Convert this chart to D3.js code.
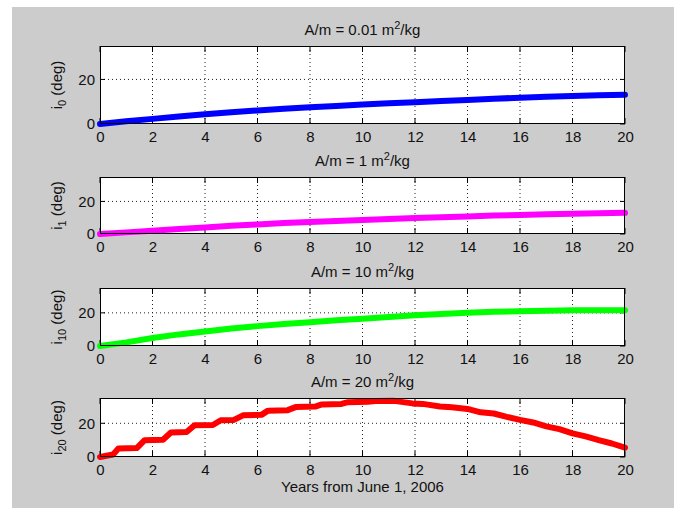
<!DOCTYPE html>
<html>
<head>
<meta charset="utf-8">
<script src="https://cdn.jsdelivr.net/npm/d3@7"></script>
<style>
  html, body { margin: 0; padding: 0; background: #ffffff; }
  svg { display: block; }
  text { font-family: "Liberation Sans", Arial, Helvetica, sans-serif; fill: #111; }
</style>
</head>
<body>
<svg id="chart" width="678" height="508"></svg>
<script>
// ---------------- data ----------------
const xTicks = [0, 2, 4, 6, 8, 10, 12, 14, 16, 18, 20];
const yTicks = [0, 20];
const areaToMass = ["0.01", "1", "10", "20"];
const subscripts = ["0", "1", "10", "20"];
const seriesColors = ["#0000ff", "#ff00ff", "#00ff00", "#ff0000"];
const xLabel = "Years from June 1, 2006";

const yearsA = [0, 1, 2, 3, 4, 5, 6, 7, 8, 9, 10, 11, 12, 13, 14, 15, 16, 17, 18, 19, 20];
const inc0 = [0, 1.2, 2.3, 3.4, 4.4, 5.3, 6.1, 6.8, 7.5, 8.1, 8.7, 9.3, 9.8, 10.3, 10.8, 11.3, 11.8, 12.2, 12.6, 12.9, 13.1];
const inc1 = [0, 1.0, 2.0, 3.0, 4.0, 5.0, 5.9, 6.7, 7.4, 8.0, 8.6, 9.2, 9.8, 10.3, 10.8, 11.3, 11.7, 12.1, 12.4, 12.7, 13.0];
const inc10 = [0, 2.2, 4.8, 7.0, 8.8, 10.5, 12.0, 13.3, 14.4, 15.5, 16.5, 17.5, 18.5, 19.3, 20.0, 20.6, 21.0, 21.3, 21.5, 21.6, 21.6];
const yearsB = [0, 0.5, 0.7, 1.4, 1.7, 2.4, 2.7, 3.3, 3.6, 4.3, 4.6, 5.1, 5.45, 6.15, 6.4, 7.15, 7.45, 8.2, 8.45, 9.2, 9.45,
                10.2, 10.5, 11.2, 11.9, 12.3, 12.95, 13.4, 14, 14.5, 15, 15.5, 16, 16.5, 17, 17.5, 18, 18.5, 19, 19.5, 20];
const inc20 = [0, 1.5, 5, 5.3, 10, 10.2, 14.5, 14.8, 18.8, 19, 21.8, 22, 24.7, 25, 27.5, 27.8, 29.6, 29.9, 31.2, 31.5, 32.5,
               32.8, 33.2, 33.3, 31.8, 31.5, 30, 29.5, 28.5, 26.5, 25.8, 23.8, 22, 20.5, 18.2, 16.5, 14, 12.2, 10, 8, 5.5];

const seriesX = [yearsA, yearsA, yearsA, yearsB];
const seriesY = [inc0, inc1, inc10, inc20];

// ---------------- layout ----------------
const panelTop = [46, 177, 288, 398];
const panelBottom = [124, 234, 346, 457];
const left = 100, right = 625;

const svg = d3.select("#chart");
svg.append("rect").attr("x", 12).attr("y", 7).attr("width", 662).attr("height", 501).attr("fill", "#cccccc");

const x = d3.scaleLinear().domain([0, 20]).range([left, right]);

for (let p = 0; p < 4; p++) {
  const top = panelTop[p], bottom = panelBottom[p];
  const y = d3.scaleLinear().domain([0, 35]).range([bottom, top]);
  const g = svg.append("g");

  g.append("rect").attr("x", left).attr("y", top).attr("width", right - left).attr("height", bottom - top)
    .attr("fill", "#ffffff");

  // grid
  g.selectAll(".vgrid").data(xTicks.filter(d => d > 0 && d < 20)).join("line")
    .attr("x1", d => x(d)).attr("x2", d => x(d)).attr("y1", top).attr("y2", bottom)
    .attr("stroke", "#222").attr("stroke-width", 1).attr("stroke-dasharray", "1,3");
  g.selectAll(".hgrid").data(yTicks.filter(d => d > 0)).join("line")
    .attr("x1", left).attr("x2", right).attr("y1", d => y(d)).attr("y2", d => y(d))
    .attr("stroke", "#222").attr("stroke-width", 1).attr("stroke-dasharray", "1,3");

  // inside ticks
  const tl = 6;
  g.selectAll(".tb").data(xTicks).join("line")
    .attr("x1", d => x(d)).attr("x2", d => x(d)).attr("y1", bottom).attr("y2", bottom - tl)
    .attr("stroke", "#000");
  g.selectAll(".tt").data(xTicks).join("line")
    .attr("x1", d => x(d)).attr("x2", d => x(d)).attr("y1", top).attr("y2", top + tl)
    .attr("stroke", "#000");
  g.selectAll(".tl").data(yTicks).join("line")
    .attr("x1", left).attr("x2", left + 5).attr("y1", d => y(d)).attr("y2", d => y(d))
    .attr("stroke", "#000");
  g.selectAll(".tr").data(yTicks).join("line")
    .attr("x1", right).attr("x2", right - 5).attr("y1", d => y(d)).attr("y2", d => y(d))
    .attr("stroke", "#000");

  // data line
  const pts = seriesX[p].map((xv, i) => [xv, seriesY[p][i]]);
  g.append("path").datum(pts)
    .attr("d", d3.line().x(d => x(d[0])).y(d => y(d[1])))
    .attr("fill", "none").attr("stroke", seriesColors[p]).attr("stroke-width", 6)
    .attr("stroke-linejoin", "round").attr("stroke-linecap", "round");

  // frame
  g.append("rect").attr("x", left + 0.5).attr("y", top + 0.5).attr("width", right - left - 1).attr("height", bottom - top - 1)
    .attr("fill", "none").attr("stroke", "#000").attr("stroke-width", 1);

  // axes labels
  const ax = g.append("g").attr("transform", `translate(0,${bottom})`)
    .call(d3.axisBottom(x).tickValues(xTicks).tickSize(0).tickPadding(7).tickFormat(d3.format("d")));
  ax.select(".domain").remove();
  ax.selectAll("text").attr("font-size", 15).attr("font-family", "Liberation Sans, Arial, sans-serif").attr("fill", "#111");

  const ay = g.append("g").attr("transform", `translate(${left},0)`)
    .call(d3.axisLeft(y).tickValues(yTicks).tickSize(0).tickPadding(5).tickFormat(d3.format("d")));
  ay.select(".domain").remove();
  ay.selectAll("text").attr("font-size", 15).attr("font-family", "Liberation Sans, Arial, sans-serif").attr("fill", "#111");

  // title
  const t = g.append("text").attr("x", (left + right) / 2).attr("y", top - 11)
    .attr("text-anchor", "middle").attr("font-size", 15);
  t.append("tspan").text(`A/m = ${areaToMass[p]} m`);
  t.append("tspan").attr("dy", -6).attr("font-size", 11).text("2");
  t.append("tspan").attr("dy", 6).text("/kg");

  // y label
  const yl = g.append("text")
    .attr("transform", `translate(62,${(top + bottom) / 2}) rotate(-90)`)
    .attr("text-anchor", "middle").attr("font-size", 15);
  yl.append("tspan").text("i");
  yl.append("tspan").attr("dy", 4).attr("font-size", 11).text(subscripts[p]);
  yl.append("tspan").attr("dy", -4).text(" (deg)");
}

svg.append("text").attr("x", (left + right) / 2).attr("y", 492)
  .attr("text-anchor", "middle").attr("font-size", 15).text(xLabel);
</script>
</body>
</html>
